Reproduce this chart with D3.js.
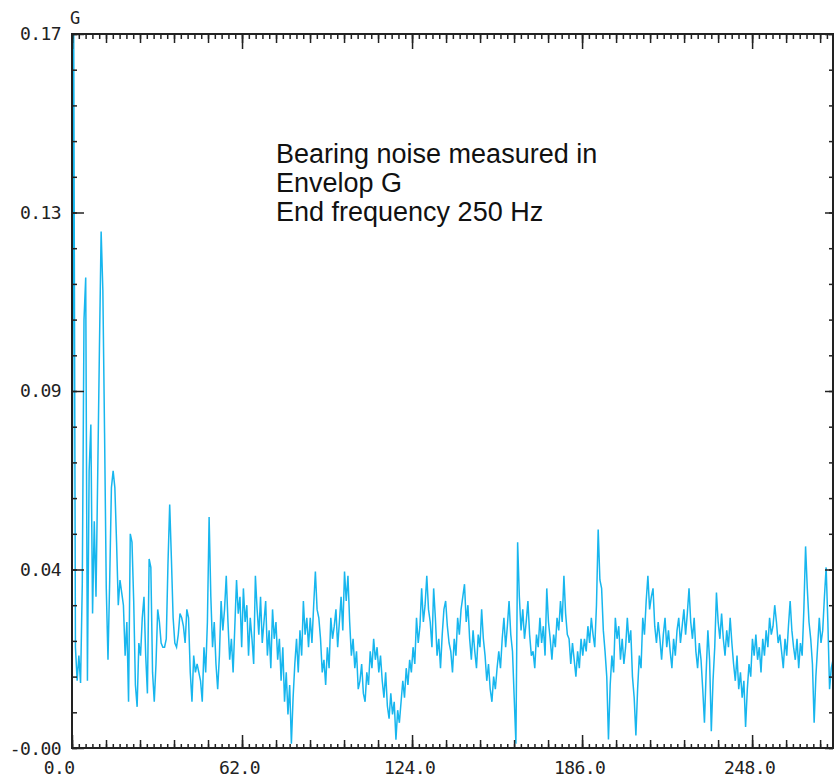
<!DOCTYPE html>
<html lang="en">

<head>
    <meta charset="UTF-8">
    <title>Envelope spectrum</title>
    <script src="https://d3js.org/d3.v7.min.js"></script>
    <style>
        body { margin: 0; background: #fff; }
        .tick text { font-family: "DejaVu Sans Mono", monospace; font-size: 18px; letter-spacing: -0.6px; fill: #222; }
        .tick line { stroke: #222; stroke-width: 1.5; }
    </style>
</head>

<body>
    <script>
        // frequency step of the spectrum lines (Hz)
        var df = 0.625;

        // amplitude in G, one value per spectrum line
        var amplitude = [
            0.020, 0.170, 0.024, 0.016, 0.022, 0.0155, 0.039, 0.102, 0.112, 0.016,
            0.066, 0.077, 0.032, 0.054, 0.036, 0.065, 0.095, 0.123, 0.109, 0.075,
            0.038, 0.021, 0.040, 0.062, 0.066, 0.062, 0.049, 0.034, 0.040, 0.037,
            0.034, 0.022, 0.030, 0.011, 0.051, 0.049, 0.035, 0.015, 0.0098, 0.025,
            0.022, 0.031, 0.036, 0.022, 0.013, 0.045, 0.043, 0.018, 0.011, 0.020,
            0.033, 0.030, 0.025, 0.024, 0.024, 0.026, 0.044, 0.058, 0.045, 0.031,
            0.025, 0.024, 0.027, 0.032, 0.031, 0.029, 0.025, 0.033, 0.031, 0.018,
            0.011, 0.022, 0.018, 0.020, 0.018, 0.016, 0.011, 0.024, 0.018,
            0.030, 0.055, 0.036, 0.024, 0.030, 0.020, 0.014, 0.022, 0.035, 0.028,
            0.033, 0.041, 0.030, 0.021, 0.026, 0.018, 0.029, 0.040, 0.032, 0.036,
            0.024, 0.038, 0.030, 0.034, 0.022, 0.031, 0.026, 0.020, 0.041, 0.033,
            0.027, 0.036, 0.025, 0.030, 0.035, 0.022, 0.028, 0.019, 0.033, 0.026,
            0.030, 0.021, 0.026, 0.016, 0.024, 0.011, 0.018, 0.008, 0.015, 0.001,
            0.012, 0.020, 0.026, 0.018, 0.028, 0.022, 0.035, 0.027, 0.031, 0.024,
            0.031, 0.025, 0.034, 0.042, 0.033, 0.031, 0.026, 0.018, 0.021, 0.015,
            0.024, 0.019, 0.031, 0.026, 0.029, 0.033, 0.024, 0.030, 0.036, 0.028,
            0.042, 0.035, 0.041, 0.030, 0.022, 0.026, 0.019, 0.023, 0.014, 0.016,
            0.020, 0.013, 0.011, 0.018, 0.015, 0.023, 0.019, 0.026, 0.021, 0.024,
            0.018, 0.022, 0.016, 0.012, 0.018, 0.010, 0.007, 0.013, 0.008, 0.011,
            0.002, 0.009, 0.006, 0.011, 0.016, 0.012, 0.019, 0.015, 0.021, 0.018,
            0.024, 0.020, 0.031, 0.025, 0.029, 0.038, 0.030, 0.034, 0.041, 0.033,
            0.030, 0.024, 0.038, 0.031, 0.022, 0.026, 0.019, 0.027, 0.033, 0.035,
            0.029, 0.025, 0.023, 0.018, 0.026, 0.022, 0.031, 0.027, 0.033, 0.036,
            0.039, 0.030, 0.034, 0.026, 0.021, 0.028, 0.023, 0.019, 0.027, 0.024,
            0.033, 0.026, 0.022, 0.016, 0.020, 0.014, 0.011, 0.017, 0.014, 0.019,
            0.023, 0.019, 0.026, 0.031, 0.024, 0.029, 0.035, 0.027, 0.023, 0.012,
            0.001, 0.049, 0.036, 0.028, 0.033, 0.026, 0.030, 0.035, 0.027, 0.022,
            0.023, 0.019, 0.027, 0.024, 0.031, 0.025, 0.029, 0.022, 0.038, 0.030,
            0.026, 0.021, 0.027, 0.024, 0.031, 0.028, 0.035, 0.030, 0.041, 0.032,
            0.027, 0.026, 0.020, 0.025, 0.021, 0.017, 0.023, 0.019, 0.026, 0.022,
            0.026, 0.023, 0.029, 0.025, 0.031, 0.027, 0.024, 0.034, 0.052, 0.040,
            0.038, 0.028, 0.023, 0.017, 0.002, 0.015, 0.022, 0.018, 0.031, 0.026,
            0.029, 0.021, 0.026, 0.020, 0.024, 0.031, 0.025, 0.028, 0.017, 0.012,
            0.003, 0.014, 0.022, 0.019, 0.031, 0.027, 0.035, 0.041, 0.033, 0.036,
            0.038, 0.029, 0.025, 0.030, 0.026, 0.021, 0.027, 0.031, 0.024, 0.028,
            0.023, 0.019, 0.026, 0.022, 0.028, 0.031, 0.025, 0.029, 0.033, 0.027,
            0.032, 0.038, 0.030, 0.026, 0.031, 0.023, 0.019, 0.025, 0.021, 0.014,
            0.006, 0.018, 0.028, 0.021, 0.004, 0.016, 0.024, 0.037, 0.030, 0.026,
            0.032, 0.026, 0.022, 0.028, 0.024, 0.031, 0.025, 0.020, 0.016, 0.022,
            0.014, 0.018, 0.012, 0.016, 0.005, 0.014, 0.020, 0.017, 0.026, 0.022,
            0.027, 0.021, 0.024, 0.018, 0.026, 0.022, 0.028, 0.024, 0.031, 0.027,
            0.029, 0.034, 0.030, 0.025, 0.027, 0.023, 0.019, 0.026, 0.022, 0.029,
            0.035, 0.028, 0.024, 0.021, 0.026, 0.019, 0.025, 0.022, 0.033, 0.048,
            0.038, 0.030, 0.026, 0.020, 0.006, 0.017, 0.024, 0.031, 0.025, 0.028,
            0.036, 0.043, 0.030, 0.014, 0.019, 0.021, 0.025
        ];

        var xTicks = [0, 62, 124, 186, 248];
        var xTickLabels = ["0.0", "62.0", "124.0", "186.0", "248.0"];
        var yTicks = [0, 0.0425, 0.085, 0.1275, 0.17];
        var yTickLabels = ["-0.00", "0.04", "0.09", "0.13", "0.17"];
        var unitLabel = "G";
        var note = ["Bearing noise measured in", "Envelop G", "End frequency 250 Hz"];

        var width = 834;
        var height = 782;
        var plotL = 72, plotR = 833, plotT = 34, plotB = 748;
        var xMax = 277.5;

        var svg = d3.select("body")
            .append("svg")
            .attr("width", width)
            .attr("height", height);

        var x = d3.scaleLinear().domain([0, xMax]).range([plotL, plotR]);
        var y = d3.scaleLinear().domain([0, 0.17]).range([plotB, plotT]);

        var xMinor = d3.range(0, xMax, 2.48);
        var xMid = d3.range(0, xMax, 12.4);
        var yMinor = d3.range(0, 0.1701, 0.0085);

        svg.append("clipPath").attr("id", "plot")
            .append("rect")
            .attr("x", plotL).attr("y", plotT)
            .attr("width", plotR - plotL).attr("height", plotB - plotT);

        // spectrum line
        var line = d3.line()
            .x(function (d, i) { return x(i * df); })
            .y(function (d) { return y(d); });
        svg.append("path")
            .datum(amplitude)
            .attr("clip-path", "url(#plot)")
            .attr("fill", "none")
            .attr("stroke", "#17b6ee")
            .attr("stroke-width", 1.5)
            .attr("d", line);

        function tickAxis(axis, pos, size, values) {
            svg.append("g")
                .attr("transform", pos)
                .call(axis.tickValues(values).tickSizeInner(size).tickSizeOuter(0).tickFormat(""))
                .call(function (g) { g.select(".domain").remove(); });
        }

        // bottom axis
        tickAxis(d3.axisBottom(x), "translate(0," + plotB + ")", -4, xMinor);
        tickAxis(d3.axisBottom(x), "translate(0," + plotB + ")", -8, xMid);
        svg.append("g")
            .attr("transform", "translate(0," + plotB + ")")
            .call(d3.axisBottom(x).tickValues(xTicks).tickSizeInner(-13).tickSizeOuter(0).tickPadding(13)
                .tickFormat(function (d, i) { return xTickLabels[i]; }))
            .call(function (g) {
                g.select(".domain").remove();
                g.selectAll("text").attr("dx", -3);
                g.select(".tick text").attr("text-anchor", "end").attr("dx", 2);
            });

        // top axis
        tickAxis(d3.axisTop(x), "translate(0," + plotT + ")", -5, xMinor);
        tickAxis(d3.axisTop(x), "translate(0," + plotT + ")", -9, xMid);
        tickAxis(d3.axisTop(x), "translate(0," + plotT + ")", -15, xTicks);

        // left axis
        tickAxis(d3.axisLeft(y), "translate(" + plotL + ",0)", -5, yMinor);
        svg.append("g")
            .attr("transform", "translate(" + plotL + ",0)")
            .call(d3.axisLeft(y).tickValues(yTicks).tickSizeInner(-12).tickSizeOuter(0).tickPadding(11)
                .tickFormat(function (d, i) { return yTickLabels[i]; }))
            .call(function (g) {
                g.select(".domain").remove();
                g.select(".tick text").attr("dy", "0.36em");
            });

        // right axis
        tickAxis(d3.axisRight(y), "translate(" + plotR + ",0)", -4, yMinor);
        tickAxis(d3.axisRight(y), "translate(" + plotR + ",0)", -8, yTicks);

        // frame
        svg.append("rect")
            .attr("x", plotL).attr("y", plotT)
            .attr("width", plotR - plotL).attr("height", plotB - plotT)
            .attr("fill", "none")
            .attr("stroke", "#222")
            .attr("stroke-width", 2);

        svg.append("text")
            .attr("x", 70).attr("y", 24)
            .style("font-family", "DejaVu Sans Mono, monospace")
            .style("font-size", "17px")
            .attr("fill", "#222")
            .text(unitLabel);

        svg.append("g").selectAll("text")
            .data(note)
            .enter()
            .append("text")
            .attr("x", 276)
            .attr("y", function (d, i) { return 163 + i * 29; })
            .style("font-family", "Liberation Sans, Arial, sans-serif")
            .style("font-size", "27px")
            .attr("fill", "#111")
            .text(function (d) { return d; });
    </script>
</body>

</html>
